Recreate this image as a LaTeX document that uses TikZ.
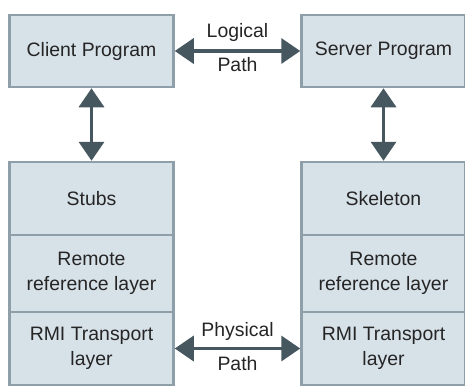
\documentclass[tikz,border=0pt]{standalone}
\usepackage{fontspec}
\setmainfont{Liberation Sans}
\usetikzlibrary{arrows.meta}
\definecolor{boxfill}{HTML}{D7E1E8}
\definecolor{boxline}{HTML}{8E9FA9}
\definecolor{arrowcol}{HTML}{46575F}
\definecolor{textcol}{HTML}{252525}
\tikzset{
    layer/.style={draw=boxline,fill=boxfill,line width=2.5bp,minimum width=164bp,
        inner sep=0pt,align=center,text=textcol,font=\fontsize{19.5}{24.5}\selectfont},
    dblarrow/.style={draw=arrowcol,line width=3.5bp,
        {Triangle[length=19bp,width=25bp]}-{Triangle[length=19bp,width=25bp]}},
    pathlabel/.style={text=textcol,font=\fontsize{19.5}{24}\selectfont,inner sep=1bp}
}
\begin{document}
\begin{tikzpicture}[x=1bp,y=-1bp]
    \useasboundingbox (0,0) rectangle (465,387);
    % client side
    \node[layer,minimum height=72bp] (client) at (91.5,51) {Client Program};
    \node[layer,minimum height=73bp] (stubs) at (91.5,198.5) {Stubs};
    \node[layer,minimum height=77bp] (cremote) at (91.5,273.5) {Remote\\reference layer};
    \node[layer,minimum height=73bp] (crmi) at (91.5,348.5) {RMI Transport\\layer};
    % server side
    \node[layer,minimum height=72bp] (server) at (383.5,51) {Server Program};
    \node[layer,minimum height=73bp] (skeleton) at (383.5,198.5) {Skeleton};
    \node[layer,minimum height=77bp] (sremote) at (383.5,273.5) {Remote\\reference layer};
    \node[layer,minimum height=73bp] (srmi) at (383.5,348.5) {RMI Transport\\layer};
    % paths
    \draw[dblarrow] (client) -- node[pathlabel,above=7bp] (logical) {Logical}
        node[pathlabel,below=4bp] (lpath) {Path} (server);
    \draw[dblarrow] (crmi) -- node[pathlabel,above=5bp] (physical) {Physical}
        node[pathlabel,below=5bp] (ppath) {Path} (srmi);
    \draw[dblarrow] (client) -- (stubs);
    \draw[dblarrow] (server) -- (skeleton);
\end{tikzpicture}
\end{document}
